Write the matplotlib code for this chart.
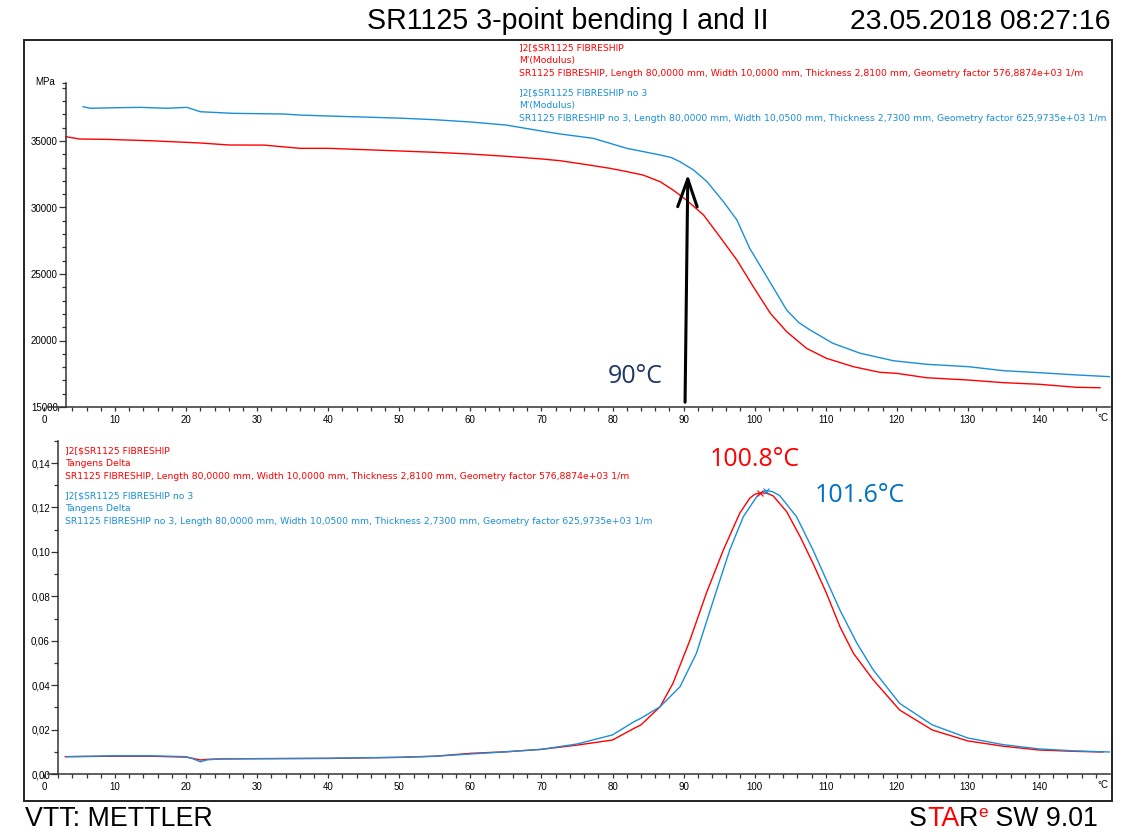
import matplotlib
matplotlib.use('Agg')
import matplotlib.pyplot as plt
from matplotlib.ticker import FixedLocator, FuncFormatter

plt.rcParams['font.family'] = ['Liberation Sans', 'DejaVu Sans']

W, H = 1137, 832

# --- data ---
# storage modulus M' (MPa)
t_mod_red = [3.1, 5, 9, 15, 20, 22, 26, 31, 36, 40, 45, 50, 55, 60, 65, 70, 72.6, 76, 79.6,
             82, 84.3, 86.7, 88.5, 90.4, 92.8, 95.1, 97.5, 99.8, 102.2, 104.5, 107.3, 110.1,
             113.9, 117.6, 120, 124.2, 130, 135, 140, 145.3, 148.6]
mod_red = [35320, 35150, 35120, 35020, 34900, 34850, 34700, 34690, 34450, 34450, 34350, 34250,
           34150, 34020, 33850, 33650, 33520, 33250, 32950, 32700, 32440, 31940, 31320, 30560,
           29440, 27800, 26050, 24050, 22050, 20660, 19410, 18660, 18030, 17610, 17530, 17200,
           17030, 16830, 16710, 16480, 16450]

t_mod_blue = [5.5, 6.5, 10, 13.5, 17.3, 20.1, 22, 26.6, 33.7, 36, 40, 45, 50, 55, 60, 65, 70,
              72.6, 77.3, 82, 86.7, 88.3, 89.5, 91.4, 93.3, 95.6, 97.5, 99.3, 101.7, 104.5,
              106.2, 107.8, 111, 114.8, 119.5, 124.2, 130.1, 135, 140.1, 145.3, 150]
mod_blue = [37580, 37460, 37500, 37530, 37460, 37530, 37200, 37080, 37030, 36950, 36880, 36800,
            36720, 36600, 36430, 36200, 35750, 35530, 35200, 34450, 33950, 33750, 33440, 32820,
            31940, 30440, 29060, 26930, 24800, 22290, 21350, 20790, 19790, 19050, 18480, 18210,
            18030, 17730, 17580, 17410, 17280]

# tan delta
t_tan_red = [3, 10, 15, 20, 21, 22, 23, 25, 30, 40, 50, 55, 60, 65, 70, 75, 80, 83, 84, 86.7,
             88.5, 90.9, 93.2, 95.6, 97.9, 99.3, 100.0, 100.8, 101.7, 102.6, 104.5, 106.4, 108.2,
             110.1, 112, 113.9, 116.7, 120.4, 125, 130, 135, 140, 145, 149]
tan_red = [0.0078, 0.0080, 0.0080, 0.0076, 0.0070, 0.0063, 0.0066, 0.0068, 0.0069, 0.0070,
           0.0075, 0.0080, 0.0093, 0.0100, 0.0111, 0.0130, 0.0153, 0.0205, 0.0221, 0.0303,
           0.0408, 0.0603, 0.0814, 0.1009, 0.1174, 0.1241, 0.1259, 0.1266, 0.1264, 0.1252,
           0.1181, 0.1068, 0.0949, 0.0814, 0.0663, 0.0543, 0.0423, 0.0288, 0.0198, 0.0149,
           0.0125, 0.0108, 0.0102, 0.0099]

t_tan_blue = [3.2, 10, 15, 20, 21, 22, 23, 25, 30, 40, 50, 55, 60, 65, 70, 75, 80, 83, 84, 86.7,
              89.5, 91.8, 94.2, 96.5, 98.4, 100.3, 101.0, 101.6, 102.5, 103.5, 105.9, 108.2,
              110.1, 112, 114.4, 116.7, 120.4, 125, 130, 135, 140, 145, 150]
tan_blue = [0.0078, 0.0082, 0.0082, 0.0078, 0.0068, 0.0055, 0.0064, 0.0068, 0.0069, 0.0071,
            0.0075, 0.0080, 0.0090, 0.0100, 0.0111, 0.0135, 0.0176, 0.0235, 0.0251, 0.0303,
            0.0393, 0.0543, 0.0783, 0.1009, 0.1158, 0.1249, 0.1268, 0.1276, 0.1271, 0.1254,
            0.1158, 0.1009, 0.0873, 0.0738, 0.0588, 0.0468, 0.0318, 0.0221, 0.0162, 0.0132,
            0.0113, 0.0104, 0.0099]

peak_red = (100.8, 0.1266)
peak_blue = (101.6, 0.1276)
onset_T = 90

x_major = list(range(0, 150, 10))
mod_major = [15000, 20000, 25000, 30000, 35000]
tan_major = [0.0, 0.02, 0.04, 0.06, 0.08, 0.10, 0.12, 0.14]

legend_mod_red = ["]2[$SR1125 FIBRESHIP", "M'(Modulus)",
                  "SR1125 FIBRESHIP, Length 80,0000 mm, Width 10,0000 mm, Thickness 2,8100 mm, Geometry factor 576,8874e+03 1/m"]
legend_mod_blue = ["]2[$SR1125 FIBRESHIP no 3", "M'(Modulus)",
                   "SR1125 FIBRESHIP no 3, Length 80,0000 mm, Width 10,0500 mm, Thickness 2,7300 mm, Geometry factor 625,9735e+03 1/m"]
legend_tan_red = ["]2[$SR1125 FIBRESHIP", "Tangens Delta",
                  "SR1125 FIBRESHIP, Length 80,0000 mm, Width 10,0000 mm, Thickness 2,8100 mm, Geometry factor 576,8874e+03 1/m"]
legend_tan_blue = ["]2[$SR1125 FIBRESHIP no 3", "Tangens Delta",
                   "SR1125 FIBRESHIP no 3, Length 80,0000 mm, Width 10,0500 mm, Thickness 2,7300 mm, Geometry factor 625,9735e+03 1/m"]

RED = '#ff0000'
BLUE = '#1a8fd8'
AXC = '#333333'


def fx(px):
    return px / W


def fy(py):
    return 1 - py / H


def style_axis(ax, spine_x, ytop, y_minor, fmt):
    ax.set_xlim(0, 150)
    for s in ['top', 'right']:
        ax.spines[s].set_visible(False)
    ax.spines['left'].set_position(('data', spine_x))
    ax.spines['left'].set_bounds(ax.get_ylim()[0], ytop)
    ax.spines['bottom'].set_bounds(0.5, 150)
    for s in ['left', 'bottom']:
        ax.spines[s].set_linewidth(1.1)
        ax.spines[s].set_color(AXC)
    ax.xaxis.set_major_locator(FixedLocator(x_major))
    ax.xaxis.set_minor_locator(FixedLocator([v for v in range(2, 151, 2) if v % 10]))
    ax.yaxis.set_minor_locator(FixedLocator(y_minor))
    ax.yaxis.set_major_formatter(FuncFormatter(fmt))
    ax.tick_params(axis='x', which='both', direction='out', length=3, width=0.9,
                   color=AXC, labelsize=7, pad=3)
    ax.tick_params(axis='y', which='major', direction='out', length=5, width=0.9,
                   color=AXC, labelsize=7, pad=1)
    ax.tick_params(axis='y', which='minor', direction='out', length=3, width=0.9, color=AXC)
    ax.annotate('°C', xy=(1, 0), xycoords='axes fraction', xytext=(-1, -4.5),
                textcoords='offset points', ha='right', va='top', fontsize=7)


fig = plt.figure(figsize=(W / 100, H / 100), dpi=100)

# top: modulus
ax1 = fig.add_axes([fx(44), fy(407), fx(1110) - fx(44), fy(40) - fy(407)])
ax1.set_facecolor('none')
ax1.plot(t_mod_red, mod_red, color=RED, lw=1.0)
ax1.plot(t_mod_blue, mod_blue, color=BLUE, lw=1.0)
ax1.set_ylim(15000, 15000 + 367 / 13.3 * 1000)
ax1.yaxis.set_major_locator(FixedLocator(mod_major))
style_axis(ax1, 3.1, 39350, list(range(16000, 40000, 1000)) + [39350],
           lambda v, p: f'{int(v)}')
ax1.annotate('', xy=(onset_T + 0.6, 32700), xytext=(onset_T + 0.2, 15150),
             arrowprops=dict(arrowstyle='->,head_length=1.0,head_width=0.35',
                             mutation_scale=20, lw=2.2, color='black'))
ax1.text(87.0, 16800, f'{onset_T}°C', family='Open Sans', fontsize=18,
         color='#1f3864', ha='right', va='baseline')
fig.text(fx(55), fy(82), 'MPa', fontsize=7, ha='right', va='center')

# bottom: tan delta
ax2 = fig.add_axes([fx(44), fy(774), fx(1110) - fx(44), fy(432) - fy(774)])
ax2.set_facecolor('none')
ax2.plot(t_tan_red, tan_red, color=RED, lw=1.0)
ax2.plot(t_tan_blue, tan_blue, color=BLUE, lw=1.0)
ax2.plot(*peak_red, marker='x', ms=4, mew=0.8, color=RED)
ax2.plot(*peak_blue, marker='x', ms=4, mew=0.8, color=BLUE)
ax2.set_ylim(0, 342 / 2221.4)
ax2.yaxis.set_major_locator(FixedLocator(tan_major))
style_axis(ax2, 2.0, 0.150, [i / 100 for i in range(1, 16, 2)],
           lambda v, p: f'{v:.2f}'.replace('.', ','))
ax2.text(93.7, 0.1385, f'{peak_red[0]}°C', family='Open Sans', fontsize=18,
         color=RED, ha='left', va='baseline')
ax2.text(108.5, 0.1225, f'{peak_blue[0]}°C', family='Open Sans', fontsize=18,
         color='#0070c0', ha='left', va='baseline')

# curve legends
for lines, x0, y0, col in [(legend_mod_red, 519, 48, RED), (legend_mod_blue, 519, 93, BLUE),
                           (legend_tan_red, 65, 451, RED), (legend_tan_blue, 65, 496, BLUE)]:
    for i, s in enumerate(lines):
        fig.text(fx(x0), fy(y0 + i * 12.6), s, family='DejaVu Sans', fontsize=6.65,
                 color=col, ha='left', va='center')

# outer frame
fig.add_artist(plt.Rectangle((fx(24), fy(801)), fx(1112) - fx(24), fy(40) - fy(801),
                             transform=fig.transFigure, fill=False, lw=1.4, ec='#222222'))

# header / footer
fig.text(fx(367), fy(29), 'SR1125 3-point bending I and II', fontsize=20.6, va='baseline')
fig.text(fx(1110), fy(29), '23.05.2018 08:27:16', fontsize=20.4, va='baseline', ha='right')
fig.text(fx(25), fy(826), 'VTT: METTLER', fontsize=19.3, va='baseline')

renderer = fig.canvas.get_renderer()
xpos = 909
for s, col, size, dy in [('S', 'black', 19.3, 0), ('TA', RED, 19.3, 0), ('R', 'black', 19.3, 0),
                         ('e', RED, 12.3, 9), (' SW 9.01', 'black', 19.3, 0)]:
    t = fig.text(fx(xpos), fy(826 - dy), s, fontsize=size, color=col, va='baseline')
    xpos += t.get_window_extent(renderer).width

fig.savefig('out.png', dpi=100)
